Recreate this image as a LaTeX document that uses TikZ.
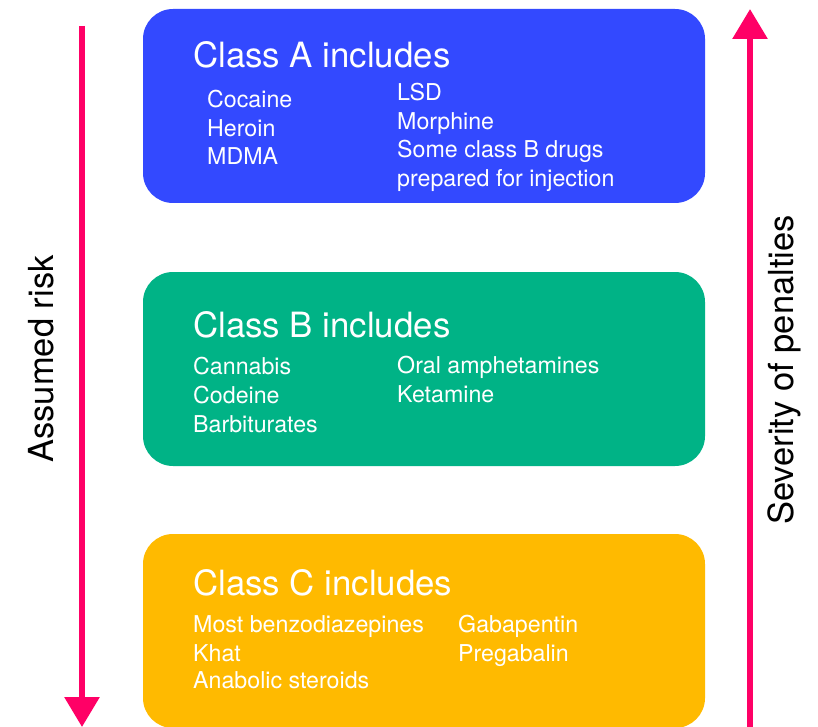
\documentclass[tikz,border=0pt]{standalone}
\usepackage{fontspec}
\setmainfont{TeX Gyre Heros}
\usetikzlibrary{arrows.meta}
\definecolor{boxA}{HTML}{3349FF}
\definecolor{boxB}{HTML}{00B386}
\definecolor{boxC}{HTML}{FFBA00}
\definecolor{arr}{HTML}{FF0066}
\tikzset{
  classbox/.style={rounded corners=30pt, minimum width=562pt, minimum height=194pt, inner sep=0pt, draw=none},
  ttl/.style={anchor=base west, inner sep=0pt, text=white, font=\fontsize{34.8}{40}\selectfont},
  itm/.style={anchor=base west, inner sep=0pt, text=white, font=\fontsize{23.2}{28}\selectfont},
  side/.style={anchor=base, inner sep=0pt, rotate=90, text=black, font=\fontsize{34.5}{40}\selectfont},
  riskarrow/.style={draw=arr, line width=6pt, -{Triangle[width=34pt,length=30pt]}}
}
\begin{document}
\begin{tikzpicture}[x=1pt,y=-1pt]
\useasboundingbox (0,0) rectangle (818,727);
% boxes
\node[classbox, fill=boxA] (A) at (424,106) {};
\node[classbox, fill=boxB] (B) at (424,369) {};
\node[classbox, fill=boxC] (C) at (424,631) {};
% class A
\node[ttl] (tA) at (193,68) {Class A includes};
\node[itm] (a1) at (207,108) {Cocaine};
\node[itm] (a2) at (207,137) {Heroin};
\node[itm] (a3) at (207,165) {MDMA};
\node[itm] (a4) at (397,101) {LSD};
\node[itm] (a5) at (397,130) {Morphine};
\node[itm] (a6) at (397,158) {Some class B drugs};
\node[itm] (a7) at (397,187) {prepared for injection};
% class B
\node[ttl] (tB) at (193,337) {Class B includes};
\node[itm] (b1) at (193,374) {Cannabis};
\node[itm] (b2) at (193,403) {Codeine};
\node[itm] (b3) at (193,432) {Barbiturates};
\node[itm] (b4) at (397,373) {Oral amphetamines};
\node[itm] (b5) at (397,402) {Ketamine};
% class C
\node[ttl] (tC) at (193,595) {Class C includes};
\node[itm] (c1) at (193,632) {Most benzodiazepines};
\node[itm] (c2) at (193,661) {Khat};
\node[itm] (c3) at (193,688) {Anabolic steroids};
\node[itm] (c4) at (458,632) {Gabapentin};
\node[itm] (c5) at (458,661) {Pregabalin};
% arrows
\coordinate (riskTop) at (82,26);
\coordinate (riskBot) at (82,727);
\coordinate (penBot) at (750,730);
\coordinate (penTop) at (750,9);
\draw[riskarrow] (riskTop) -- (riskBot);
\draw[riskarrow] (penBot) -- (penTop);
% side labels
\node[side] (risk) at (53,359) {Assumed risk};
\node[side] (pen) at (793,370) {Severity of penalties};
\end{tikzpicture}
\end{document}
